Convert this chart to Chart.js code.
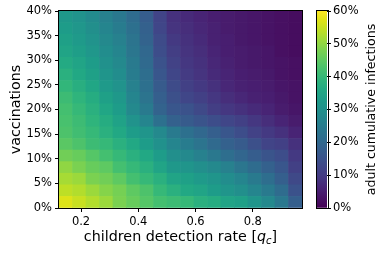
<!DOCTYPE html>
<html>
<head>
<meta charset="utf-8">
<script src="https://cdn.jsdelivr.net/npm/chart.js@4/dist/chart.umd.min.js"></script>
<style>
  html, body { margin: 0; padding: 0; background: #fff; }
  #wrap { position: relative; width: 381px; height: 253px; }
  #wrap canvas { position: absolute; top: 0; }
</style>
</head>
<body>
<div id="wrap">
  <canvas id="heat" width="381" height="253" style="left:0"></canvas>
  <canvas id="cbar" width="81" height="253" style="left:300px"></canvas>
</div>
<script>
// ---- data ----
const qc = [0.10, 0.15, 0.20, 0.25, 0.30, 0.35, 0.40, 0.45, 0.50, 0.55, 0.60, 0.65, 0.70, 0.75, 0.80, 0.85, 0.90, 0.95];
const vacc = [0, 2.5, 5, 7.5, 10, 12.5, 15, 17.5, 20, 22.5, 25, 27.5, 30, 32.5, 35, 37.5, 40];
const xTicks = [0.2, 0.4, 0.6, 0.8];
const yTicks = [0, 5, 10, 15, 20, 25, 30, 35, 40];
const cbTicks = [0, 10, 20, 30, 40, 50, 60];

// adult cumulative infections (%) - one row per vaccination level, lowest first
const infections = [
  [57, 55, 53, 51, 48, 46, 44, 42, 41, 40, 38, 37, 35, 34, 31, 28, 24, 18],
  [54, 53, 51, 49, 47.5, 45, 43, 40, 38, 36, 35, 33, 31, 29.5, 27, 24.5, 21, 15],
  [52, 51, 48, 47, 45, 42, 40, 38, 35, 34, 32.5, 31, 29, 27, 24.5, 21.5, 18, 13],
  [50, 48, 46, 45, 42, 40, 38, 35, 32, 31, 29.5, 28, 26, 23.5, 21, 18.5, 16, 11],
  [47, 46, 44, 42, 40, 38, 36, 33, 29.5, 28, 26, 24, 21.5, 19.5, 17.5, 15.5, 14, 9.5],
  [44.5, 43, 41, 40, 38, 36, 33, 30, 27, 25, 23, 20.5, 18.5, 17, 14.5, 12, 11, 8],
  [43, 41.5, 40, 38, 36, 33, 31, 28, 24.5, 22, 20, 18, 16, 14, 11.5, 9.5, 8, 6],
  [42.5, 41, 39, 37, 34.5, 30.5, 27, 22, 18.5, 17, 15.5, 14, 12.5, 11, 9, 7.5, 6, 4.5],
  [42, 40, 38, 35.5, 33, 28, 24.5, 19, 16, 15, 13, 10.5, 9, 8, 7, 6, 4.5, 3.5],
  [41, 39, 37, 34, 32, 27, 23, 18, 14.5, 12.5, 11, 9, 7.5, 6.5, 5.5, 5, 4, 3],
  [39.5, 37.5, 35.5, 32.5, 30.5, 26, 22, 17, 13.5, 11, 9.5, 8, 6.5, 5.5, 5, 4.5, 3.5, 3],
  [38, 36, 34, 31, 29, 25, 21.5, 16, 12.5, 10, 8.5, 7, 6, 5, 4.5, 4, 3, 2.5],
  [36.5, 35, 33, 30, 28, 24.5, 20.5, 15, 11.5, 9, 8, 6.5, 5.5, 4.5, 4, 3.5, 3, 2.5],
  [35, 33.5, 31.5, 29, 27, 23.5, 20, 14, 10.5, 8.5, 7.5, 6, 5, 4.5, 4, 3.5, 2.5, 2],
  [34, 32.5, 30.5, 28, 26, 23, 19, 13.5, 9.5, 8, 7, 5.5, 5, 4, 3.5, 3, 2.5, 2],
  [33, 31.5, 29.5, 27, 25, 22, 18.5, 12.5, 8.5, 7.5, 6.5, 5.5, 4.5, 4, 3.5, 3, 2.5, 2],
  [32, 30.5, 28.5, 26, 24, 21, 17.5, 12, 8, 7, 6, 5, 4.5, 4, 3.5, 3, 2.5, 2]
];

// axis ranges (image extent)
const xMin = 0.123, xMax = 0.972;
const yMin = 0, yMax = 40;
const cbMin = 0, cbMax = 60;

const FONT = '"DejaVu Sans", sans-serif';
Chart.defaults.font.family = FONT;
Chart.defaults.color = '#000';

// viridis colormap
const VIRIDIS = [
  [0.00, '#440154'], [0.05, '#471365'], [0.10, '#482475'], [0.15, '#453781'],
  [0.20, '#414487'], [0.25, '#3b528b'], [0.30, '#355f8d'], [0.35, '#2f6c8e'],
  [0.40, '#2a788e'], [0.45, '#25858e'], [0.50, '#21918c'], [0.55, '#1e9c89'],
  [0.60, '#22a884'], [0.65, '#2fb47c'], [0.70, '#44bf70'], [0.75, '#5ec962'],
  [0.80, '#7ad151'], [0.85, '#9bd93c'], [0.90, '#bddf26'], [0.95, '#dde318'],
  [1.00, '#fde725']
];
function hexRgb(h) {
  return [1, 3, 5].map(i => parseInt(h.slice(i, i + 2), 16));
}
function viridis(t) {
  t = Math.max(0, Math.min(1, t));
  for (let i = 1; i < VIRIDIS.length; i++) {
    if (t <= VIRIDIS[i][0]) {
      const [t0, c0] = VIRIDIS[i - 1], [t1, c1] = VIRIDIS[i];
      const f = (t - t0) / (t1 - t0);
      const a = hexRgb(c0), b = hexRgb(c1);
      const c = a.map((v, k) => Math.round(v + (b[k] - v) * f));
      return `rgb(${c[0]},${c[1]},${c[2]})`;
    }
  }
  return VIRIDIS[VIRIDIS.length - 1][1];
}

const rowStep = (yMax - yMin) / vacc.length;

// black frame round the plot area
const frame = {
  id: 'frame',
  afterDatasetsDraw(chart) {
    const { ctx, chartArea: a } = chart;
    ctx.save();
    ctx.strokeStyle = '#000';
    ctx.lineWidth = 1;
    ctx.strokeRect(Math.round(a.left) - 0.5, Math.round(a.top) - 0.5,
      Math.round(a.right - a.left) + 1, Math.round(a.bottom - a.top) + 1);
    ctx.restore();
  }
};

// axis titles (x has math-style q_c)
const heatTitles = {
  id: 'heatTitles',
  afterDraw(chart) {
    const { ctx, chartArea: a } = chart;
    ctx.save();
    ctx.fillStyle = '#000';
    ctx.textBaseline = 'alphabetic';

    ctx.save();
    ctx.font = `14.3px ${FONT}`;
    ctx.textAlign = 'center';
    ctx.translate(20, (a.top + a.bottom) / 2);
    ctx.rotate(-Math.PI / 2);
    ctx.fillText('vaccinations', 0, 0);
    ctx.restore();

    const parts = [
      { t: 'children detection rate [', f: `14.3px ${FONT}`, dy: 0 },
      { t: 'q', f: `italic 14.3px ${FONT}`, dy: 0 },
      { t: 'c', f: `italic 10px ${FONT}`, dy: 3 },
      { t: ']', f: `14.3px ${FONT}`, dy: 0 }
    ];
    let w = 0;
    parts.forEach(p => { ctx.font = p.f; p.w = ctx.measureText(p.t).width; w += p.w; });
    let x = (a.left + a.right) / 2 - w / 2;
    ctx.textAlign = 'left';
    parts.forEach(p => { ctx.font = p.f; ctx.fillText(p.t, x, 241 + p.dy); x += p.w; });
    ctx.restore();
  }
};

new Chart(document.getElementById('heat'), {
  type: 'bar',
  data: {
    labels: qc.map(String),
    datasets: vacc.map((v, r) => ({
      label: v + '%',
      data: qc.map(() => [yMin + r * rowStep, yMin + (r + 1) * rowStep]),
      backgroundColor: infections[r].map(val => viridis((val - cbMin) / (cbMax - cbMin))),
      borderWidth: 0,
      grouped: false,
      barPercentage: 1,
      categoryPercentage: 1,
      xAxisID: 'x',
      yAxisID: 'y'
    }))
  },
  options: {
    responsive: false,
    animation: false,
    events: [],
    layout: { padding: { left: 0, top: 11, right: 79, bottom: 0 } },
    plugins: { legend: { display: false }, tooltip: { enabled: false } },
    scales: {
      x: { type: 'category', display: false },
      xq: {
        type: 'linear', axis: 'x', position: 'bottom', min: xMin, max: xMax, offset: false,
        afterBuildTicks: s => { s.ticks = xTicks.map(v => ({ value: v })); },
        afterFit: s => { s.height = 45; },
        grid: { drawOnChartArea: false, offset: false, color: '#000', tickLength: 4 },
        border: { display: false },
        ticks: { color: '#000', font: { size: 11.5 }, padding: 3, maxRotation: 0, autoSkip: false,
          callback: v => v.toFixed(1) }
      },
      y: {
        type: 'linear', min: yMin, max: yMax,
        afterBuildTicks: s => { s.ticks = yTicks.map(v => ({ value: v })); },
        afterFit: s => { s.width = 59; },
        grid: { drawOnChartArea: false, color: '#000', tickLength: 4 },
        border: { display: false },
        ticks: { color: '#000', font: { size: 11.5 }, padding: 3, autoSkip: false,
          callback: v => v + '%' }
      }
    }
  },
  plugins: [frame, heatTitles]
});

// ---- colorbar ----
const cbTitle = {
  id: 'cbTitle',
  afterDraw(chart) {
    const { ctx, chartArea: a } = chart;
    ctx.save();
    ctx.fillStyle = '#000';
    ctx.font = `12.6px ${FONT}`;
    ctx.textAlign = 'center';
    ctx.textBaseline = 'alphabetic';
    ctx.translate(75, (a.top + a.bottom) / 2);
    ctx.rotate(-Math.PI / 2);
    ctx.fillText('adult cumulative infections', 0, 0);
    ctx.restore();
  }
};

new Chart(document.getElementById('cbar'), {
  type: 'bar',
  data: {
    labels: [''],
    datasets: [{
      data: [[cbMin, cbMax]],
      backgroundColor: c => {
        const a = c.chart.chartArea;
        if (!a) return '#21918c';
        const g = c.chart.ctx.createLinearGradient(0, a.bottom, 0, a.top);
        VIRIDIS.forEach(([t, col]) => g.addColorStop(t, col));
        return g;
      },
      borderWidth: 0,
      barPercentage: 1,
      categoryPercentage: 1
    }]
  },
  options: {
    responsive: false,
    animation: false,
    events: [],
    layout: { padding: { left: 16.5, top: 11, right: 0, bottom: 45 } },
    plugins: { legend: { display: false }, tooltip: { enabled: false } },
    scales: {
      x: { type: 'category', display: false },
      y: {
        type: 'linear', position: 'right', min: cbMin, max: cbMax,
        afterBuildTicks: s => { s.ticks = cbTicks.map(v => ({ value: v })); },
        afterFit: s => { s.width = 54; },
        grid: { drawOnChartArea: false, color: '#000', tickLength: 4 },
        border: { display: false },
        ticks: { color: '#000', font: { size: 11.5 }, padding: 2, autoSkip: false,
          callback: v => v + '%' }
      }
    }
  },
  plugins: [frame, cbTitle]
});
</script>
</body>
</html>
